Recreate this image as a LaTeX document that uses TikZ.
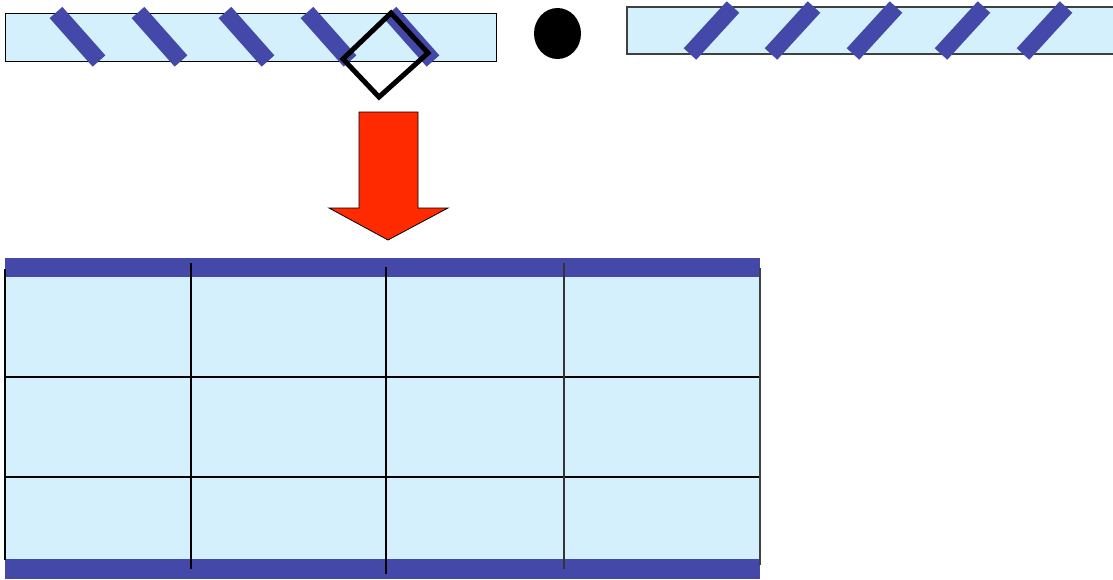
\documentclass[tikz,border=0pt]{standalone}
\usetikzlibrary{calc,shapes.geometric}
\definecolor{lightfill}{RGB}{212,240,253}
\definecolor{barblue}{RGB}{68,72,168}
\definecolor{arrowred}{RGB}{255,42,0}
\tikzset{
  strip/.style={fill=lightfill,draw=black,line width=1pt},
  slash/.style={draw=barblue,line width=17pt,line cap=butt},
  gridline/.style={draw=black,line width=1.1pt},
  band/.style={fill=barblue,draw=none},
}
\begin{document}
\begin{tikzpicture}[x=1pt,y=-1pt]
\useasboundingbox (0,0) rectangle (1113,579);
% left strip
\draw[strip] (5,13) rectangle (496,61);
\foreach \t in {56,138,225,307,390}{
  \draw[slash] (\t,12.5) -- ({\t+43},61);
}
% diamond marker
\coordinate (dt) at (391,13);
\coordinate (dr) at (428,53);
\coordinate (db) at (379,97);
\coordinate (dl) at (343,59);
\draw[black,line width=5pt,line join=miter] (dt) -- (dr) -- (db) -- (dl) -- cycle;
% dot
\node[draw=none,fill=black,ellipse,minimum width=47pt,minimum height=51pt,inner sep=0pt] (dot) at (557.5,33.5) {};
% right strip
\fill[lightfill] (627,7) rectangle (1113,54);
\draw[draw=black!75,line width=1.2pt] (1114,7) -- (627,7) -- (627,54) -- (1114,54);
\foreach \b in {690,771,853,941,1023}{
  \draw[slash] (\b,54) -- ({\b+43},7);
}
% big arrow
\draw[fill=arrowred,draw=black,line width=0.8pt,line join=miter]
  (359,112) -- (418,112) -- (418,208) -- (448,208) -- (388,240) -- (329,208) -- (359,208) -- cycle;
% table
\fill[lightfill] (5,277) rectangle (760,559);
\fill[band] (5,258) rectangle (760,277);
\fill[band] (5,559) rectangle (760,579);
\draw[gridline] (5,377) -- (760,377);
\draw[gridline] (5,477) -- (760,477);
\draw[gridline] (5,269) -- (5,560);
\draw[gridline,draw=black!75] (760,268) -- (760,565);
\draw[gridline] (191,263) -- (191,569);
\draw[gridline] (386,267) -- (386,574);
\draw[gridline,draw=black!80] (564,263) -- (564,569);
\end{tikzpicture}
\end{document}
